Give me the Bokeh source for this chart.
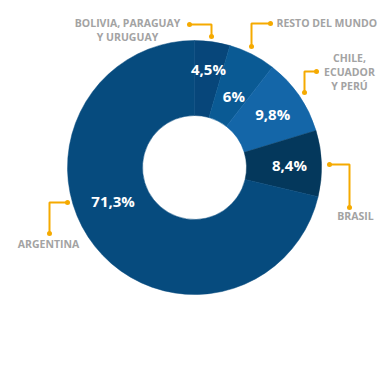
import math
from bokeh.plotting import figure
from bokeh.models import Range1d, ColumnDataSource
from bokeh.core.properties import value
from bokeh.embed import file_html
from bokeh.resources import INLINE

# ---- data ----
categories = ["BOLIVIA, PARAGUAY\nY URUGUAY", "RESTO DEL MUNDO", "CHILE,\nECUADOR\nY PERÚ", "BRASIL", "ARGENTINA"]
shares = [4.5, 6.0, 9.8, 8.4, 71.3]
share_labels = ["4,5%", "6%", "9,8%", "8,4%", "71,3%"]
colors = ["#07467a", "#0a5a94", "#1466a8", "#04385c", "#064b7e"]

W = H = 382

def X(px):
    return px

def Y(py):
    return H - py

p = figure(width=W, height=H, output_backend="svg", toolbar_location=None,
           x_range=Range1d(0, W), y_range=Range1d(0, H),
           min_border=0, outline_line_color=None)
p.axis.visible = False
p.grid.visible = False
p.background_fill_color = "white"
p.border_fill_color = "white"

cx, cy = X(194), Y(167)
r_out, r_in = 127, 52

total = sum(shares)
starts, ends, mids = [], [], []
cum = 0.0
for s in shares:
    a0 = math.pi / 2 - cum / total * 2 * math.pi
    cum += s
    a1 = math.pi / 2 - cum / total * 2 * math.pi
    starts.append(a0)
    ends.append(a1)
    mids.append((a0 + a1) / 2)

src = ColumnDataSource(dict(start=starts, end=ends, color=colors))
p.annular_wedge(x=cx, y=cy, inner_radius=r_in, outer_radius=r_out,
                start_angle="start", end_angle="end", direction="clock",
                fill_color="color", line_color="color", line_width=0.5, source=src)

# value labels inside slices
label_r = [99, 82, 95, 95, 88]
label_da = [0.0, -0.03, 0.0, 0.0, -0.28]
lx = [cx + r * math.cos(m + d) for r, m, d in zip(label_r, mids, label_da)]
ly = [cy + r * math.sin(m + d) for r, m, d in zip(label_r, mids, label_da)]
p.text(x=lx, y=ly, text=share_labels, text_color="white",
       text_font=value("Open Sans"), text_font_style="bold", text_font_size="15px",
       text_align="center", text_baseline="middle")

# outer category labels
cat_x = [X(127), X(276), X(349), X(355), X(48)]
cat_y = [Y(29.5), Y(22), Y(71.5), Y(215), Y(243)]
cat_align = ["center", "left", "center", "center", "center"]
p.text(x=cat_x, y=cat_y, text=categories, text_color="#a3a3a3",
       text_font=value("Open Sans"), text_font_style="bold", text_font_size="10.5px",
       text_align=cat_align, text_baseline="middle", text_line_height=1.0)

# leader lines (dot -> corner -> dot)
leaders = [
    [(189, 24), (211, 24), (211, 36)],
    [(270, 23), (251, 23), (251, 46)],
    [(316, 71), (304, 71), (304, 92)],
    [(329, 164), (349, 164), (349, 207)],
    [(67, 202), (49, 202), (49, 233)],
]
orange = "#f5aa00"
for pts in leaders:
    xs = [X(a) for a, b in pts]
    ys = [Y(b) for a, b in pts]
    p.line(xs, ys, line_color=orange, line_width=2)
    p.scatter([xs[0], xs[-1]], [ys[0], ys[-1]], size=5, fill_color=orange, line_color=None)

open("out.html", "w").write(file_html(p, INLINE))
